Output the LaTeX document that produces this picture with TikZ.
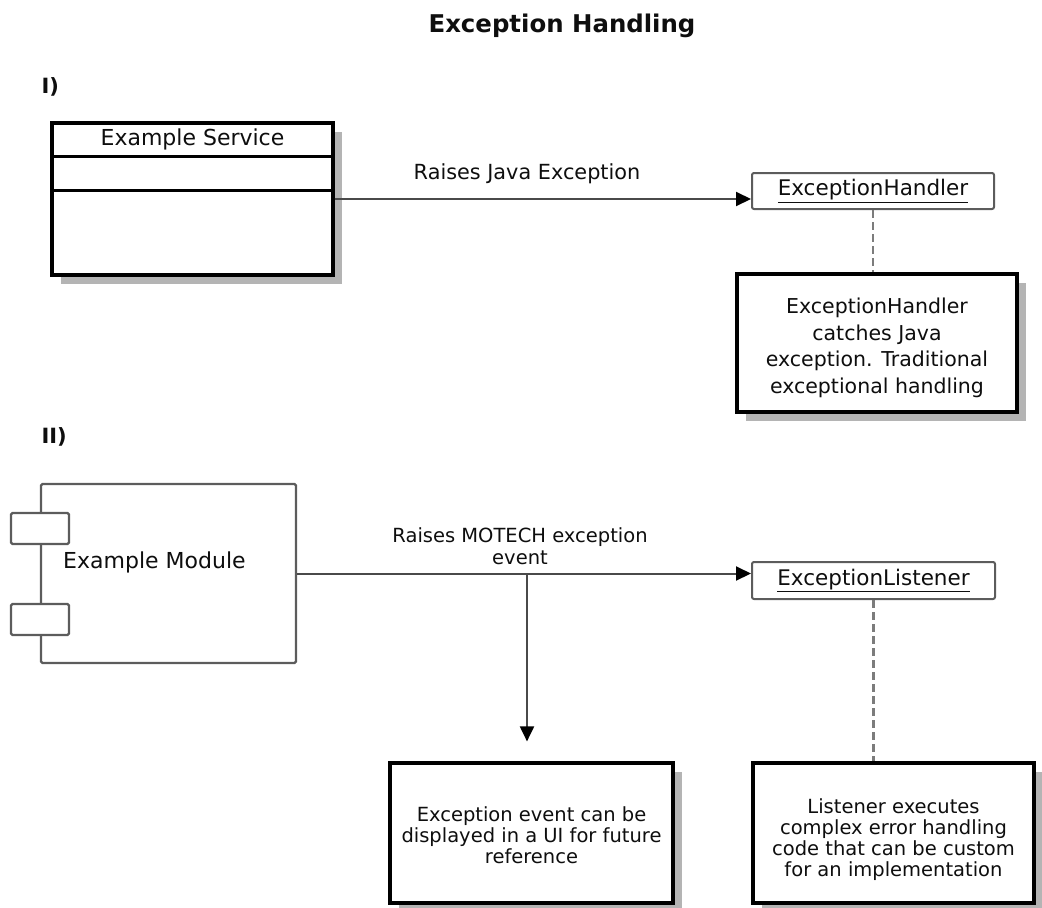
\documentclass[tikz,border=0pt]{standalone}
\usepackage{fontspec}
\setmainfont{DejaVu Sans}
\usetikzlibrary{arrows.meta,shadows,calc}

\definecolor{shadowgray}{HTML}{B4B4B4}
\definecolor{linegray}{HTML}{4A4A4A}
\definecolor{framegray}{HTML}{5C5C5C}
\definecolor{dashgray}{HTML}{7C7C7C}
\definecolor{inkgray}{HTML}{0E0E0E}

\begin{document}
\begin{tikzpicture}[x=1pt,y=-1pt,
  every node/.style={text=inkgray},
  heavybox/.style={draw=black, line width=3.2pt, fill=white, inner sep=0pt,
    drop shadow={shadow xshift=9pt, shadow yshift=-9pt, fill=shadowgray, opacity=1}},
  objbox/.style={draw=framegray, line width=2pt, rounded corners=2pt, fill=white, inner sep=0pt,
    minimum width=242pt, minimum height=36pt, font=\fontsize{21.5pt}{24pt}\selectfont},
  compbox/.style={draw=framegray, line width=2.3pt, rounded corners=1.5pt, fill=white, inner sep=0pt},
  bigtext/.style={font=\fontsize{22pt}{26pt}\selectfont},
  notetext/.style={align=center, font=\fontsize{20.5pt}{26.5pt}\selectfont},
  smalltext/.style={align=center, font=\fontsize{19.5pt}{21pt}\selectfont},
  flow/.style={draw=linegray, line width=2pt, -{Triangle[length=15pt,width=14pt,color=black]}},
  assoc/.style={draw=dashgray, line width=2.5pt, dash pattern=on 8pt off 4pt},
  sectionmark/.style={anchor=west, font=\bfseries\fontsize{21pt}{24pt}\selectfont}
]
\useasboundingbox (0,0) rectangle (1042,908);

% Title and section markers
\node[font=\bfseries\fontsize{24.4pt}{28pt}\selectfont] (title) at (562,26) {Exception Handling};
\node[sectionmark] (secI) at (38,87) {I)};
\node[sectionmark] (secII) at (38,437) {II)};

% Part I: class box raising a Java exception
\node[heavybox, minimum width=281pt, minimum height=152pt] (svc) at (192.5,199) {};
\draw[line width=3.2pt] ($(svc.north west)+(0,35)$) -- ($(svc.north east)+(0,35)$);
\draw[line width=3.2pt] ($(svc.north west)+(0,69)$) -- ($(svc.north east)+(0,69)$);
\node[bigtext] (svclabel) at ($(svc.north)+(0,18)$) {Example Service};

\node[objbox] (handler) at (873,191) {\underline{ExceptionHandler}};
\node[heavybox, minimum width=280pt, minimum height=138pt] (note1) at (877,343) {};
\node[notetext] (note1text) at (877,348)
  {ExceptionHandler\\catches Java\\exception. Traditional\\exceptional handling};

\draw[flow] (svc.east) -- (svc.east -| handler.west);
\node[smalltext, font=\fontsize{20.8pt}{22pt}\selectfont] (javalabel) at (527,174) {Raises Java Exception};
\draw[assoc] (handler.south) -- (handler.south |- note1.north);

% Part II: component raising a MOTECH event
\node[compbox, minimum width=255pt, minimum height=179pt] (module) at (168.5,573.5) {};
\node[compbox, minimum width=58pt, minimum height=31pt] (port1) at (40,528.5) {};
\node[compbox, minimum width=58pt, minimum height=31pt] (port2) at (40,619.5) {};
\node[bigtext, anchor=west, inner sep=0pt] (modlabel) at (63,562) {Example Module};

\node[objbox, minimum width=243pt, minimum height=37pt] (listener) at (873.5,580.5) {\underline{ExceptionListener}};

\node[heavybox, minimum width=283pt, minimum height=140pt] (evnote) at (531.5,833) {};
\node[smalltext] (evtext) at (531.5,835)
  {Exception event can be\\displayed in a UI for future\\reference};
\node[heavybox, minimum width=281pt, minimum height=140pt] (lsnote) at (893.5,833) {};
\node[smalltext] (lstext) at (893.5,840)
  {Listener executes\\complex error handling\\code that can be custom\\for an implementation};

\draw[flow] (module.east) -- (module.east -| listener.west);
\node[smalltext, font=\fontsize{19.5pt}{22pt}\selectfont] (motechlabel) at (520,546)
  {Raises MOTECH exception\\event};
\coordinate (split) at (527,573.5);
\draw[flow, shorten >=20pt] (split) -- (split |- evnote.north);
\draw[assoc] (listener.south) -- (listener.south |- lsnote.north);
\end{tikzpicture}
\end{document}
